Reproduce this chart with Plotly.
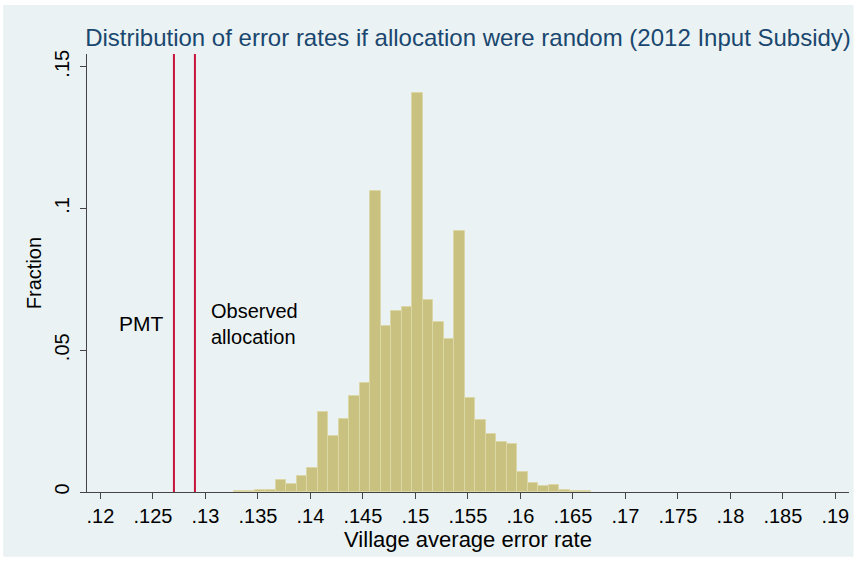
import plotly.graph_objects as go

# ---- data ----
bin_centers = [0.1332, 0.1342, 0.1352, 0.1362, 0.1372, 0.1382, 0.1392, 0.1402,
               0.1412, 0.1422, 0.1432, 0.1442, 0.1452, 0.1462, 0.1472, 0.1482,
               0.1492, 0.1502, 0.1512, 0.1522, 0.1532, 0.1542, 0.1552, 0.1562,
               0.1572, 0.1582, 0.1592, 0.1602, 0.1612, 0.1622, 0.1632, 0.1642,
               0.1652, 0.1662]
fractions = [0.0003, 0.0003, 0.0007, 0.0007, 0.0043, 0.0029, 0.0057, 0.0085,
             0.0281, 0.0196, 0.0257, 0.0337, 0.0386, 0.1062, 0.0586, 0.0639,
             0.0651, 0.1409, 0.0678, 0.0599, 0.0539, 0.0919, 0.0332, 0.0254,
             0.0204, 0.0175, 0.0169, 0.0069, 0.0032, 0.0021, 0.0023, 0.0008,
             0.0003, 0.0003]
bin_width = 0.001

ref_lines = [0.127, 0.129]          # PMT, observed allocation
pmt_label = "PMT"
obs_label = "Observed<br>allocation"
label_y = [0.0593, 0.0594]          # PMT, observed allocation

x_ticks = [0.12, 0.125, 0.13, 0.135, 0.14, 0.145, 0.15, 0.155, 0.16, 0.165,
           0.17, 0.175, 0.18, 0.185, 0.19]
x_tick_text = [".12", ".125", ".13", ".135", ".14", ".145", ".15", ".155", ".16",
               ".165", ".17", ".175", ".18", ".185", ".19"]
y_ticks = [0, 0.05, 0.1, 0.15]
y_tick_text = ["0", ".05", ".1", ".15"]

title_text = "Distribution of error rates if allocation were random (2012 Input Subsidy)"
x_title = "Village average error rate"
y_title = "Fraction"

FONT = "Liberation Sans, Arial, sans-serif"
NARROW = "Liberation Sans Narrow, Arial Narrow, Liberation Sans, sans-serif"

fig = go.Figure()
fig.add_trace(go.Bar(
    x=bin_centers, y=fractions, width=[bin_width] * len(bin_centers),
    marker=dict(color="#C8C17F", line=dict(color="#DCD7A6", width=1)),
    showlegend=False,
))

for v in ref_lines:
    fig.add_shape(type="line", xref="x", yref="paper", x0=v, x1=v, y0=0, y1=1,
                  line=dict(color="#C8143C", width=2), layer="above")

# labels next to the reference lines
fig.add_annotation(x=ref_lines[0], y=label_y[0], xref="x", yref="y", text=pmt_label,
                   showarrow=False, xanchor="right", xshift=-8,
                   font=dict(family=FONT, size=21, color="#000000"))
fig.add_annotation(x=ref_lines[1], y=label_y[1], xref="x", yref="y", text=obs_label,
                   showarrow=False, xanchor="left", xshift=14, align="left",
                   font=dict(family=FONT, size=20, color="#000000"))

# outer graph region background
fig.add_shape(type="rect", xref="paper", yref="paper",
              x0=-0.110, x1=1.006, y0=-0.148, y1=1.112,
              fillcolor="#EAF2F3", line=dict(width=0), layer="below")

fig.update_layout(
    width=857, height=564,
    margin=dict(l=87, r=8, t=54, b=72),
    paper_bgcolor="#FFFFFF",
    plot_bgcolor="#FFFFFF",
    bargap=0,
    title=dict(text=title_text, x=0.5, xref="paper", xanchor="center",
               y=0.933, yref="container", yanchor="middle",
               font=dict(family=NARROW, size=24, color="#1A476F")),
    font=dict(family=FONT, size=19, color="#000000"),
)

fig.update_xaxes(
    range=[0.11872, 0.1913], tickvals=x_ticks, ticktext=x_tick_text,
    ticks="outside", ticklen=6, tickcolor="#444444", tickwidth=1,
    showline=True, linecolor="#444444", linewidth=1, showgrid=False,
    zeroline=False, tickfont=dict(family=NARROW, size=20, color="#000000"),
    title=dict(text=x_title, font=dict(family=NARROW, size=22, color="#000000"),
               standoff=0),
)
fig.update_yaxes(
    range=[0, 0.1545], tickvals=y_ticks, ticktext=y_tick_text, tickangle=-90,
    ticks="outside", ticklen=6, tickcolor="#444444", tickwidth=1,
    showline=True, linecolor="#444444", linewidth=1,
    showgrid=True, gridcolor="#EAF2F3", gridwidth=1, zeroline=False,
    ticklabelstandoff=3,
    tickfont=dict(family=FONT, size=20, color="#000000"),
    title=dict(text=y_title, font=dict(family=FONT, size=20, color="#000000"),
               standoff=4),
)

fig.write_html("out.html")
